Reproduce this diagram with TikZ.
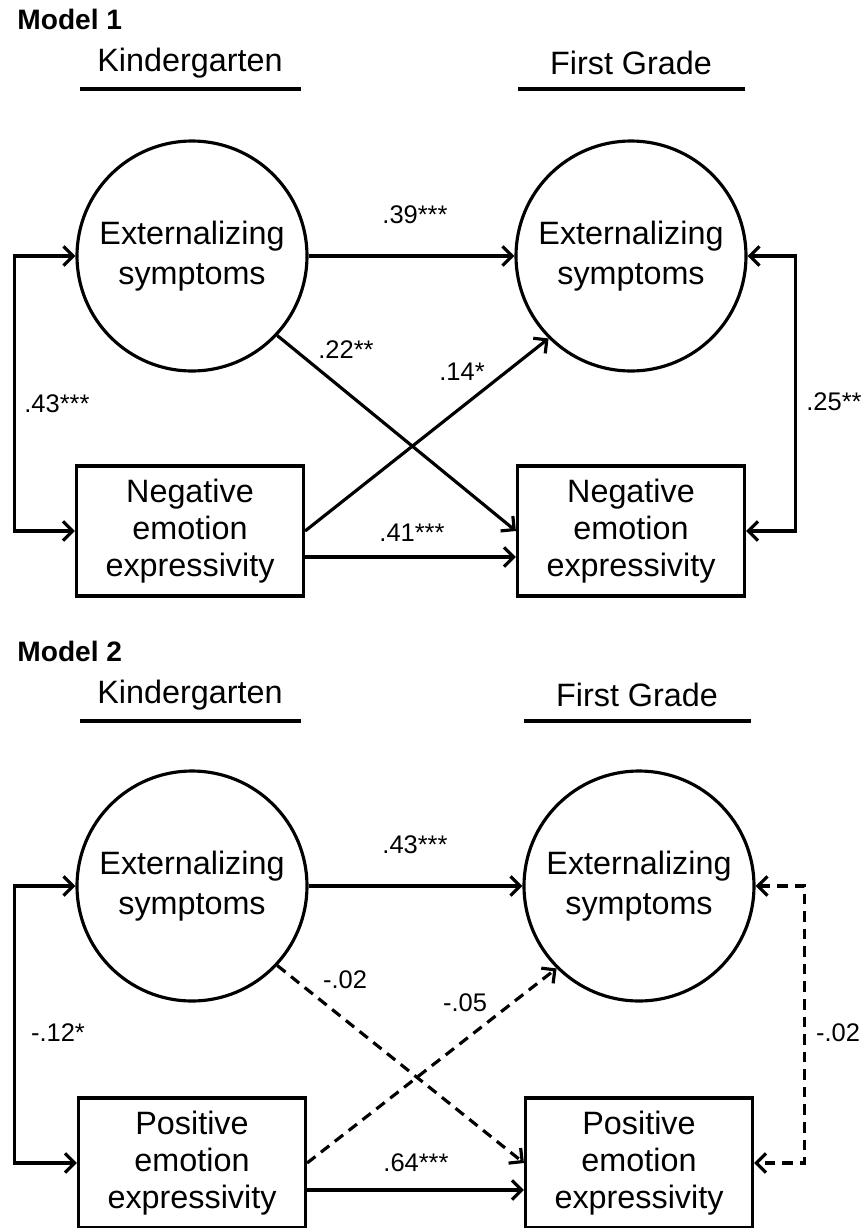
\documentclass[tikz,border=0pt]{standalone}
\usepackage{fontspec}
\setmainfont{Liberation Sans}
\usetikzlibrary{arrows.meta}

\begin{document}
\begin{tikzpicture}[x=0.2mm,y=-0.2mm,line width=1.8pt,
  latent/.style={draw, circle, minimum size=46mm, inner sep=0pt, align=center, font=\fontsize{18.4}{23}\selectfont},
  observed/.style={draw, rectangle, minimum width=45.4mm, minimum height=26mm, inner sep=0pt, align=center, font=\fontsize{18.4}{21}\selectfont},
  effect/.style={-{Straight Barb[length=5.5pt,width=11pt]}},
  cov/.style={{Straight Barb[length=5.5pt,width=11pt]}-{Straight Barb[length=5.5pt,width=11pt]}},
  ns/.style={dash pattern=on 6pt off 4pt},
  coef/.style={font=\fontsize{14.5}{17}\selectfont},
  wave/.style={font=\fontsize{18.4}{22}\selectfont},
  model/.style={anchor=west, font=\bfseries\fontsize{16}{18}\selectfont}]
\useasboundingbox (0,0) rectangle (864,1228);

% Model 1
\node[model] (m1) at (10,19) {Model 1};
\node[wave] (kg1) at (190,63) {Kindergarten};
\node[wave] (fg1) at (631,63) {First Grade};
\draw (80,89) -- (301,89);
\draw (518,89) -- (745,89);

\node[latent] (ext1K) at (192,256) {Externalizing\\symptoms};
\node[latent] (ext1F) at (631,256) {Externalizing\\symptoms};
\node[observed] (neg1K) at (190,531) {Negative\\emotion\\expressivity};
\node[observed] (neg1F) at (631,531) {Negative\\emotion\\expressivity};

\draw[effect] (ext1K) -- (ext1F);
\draw[effect] (ext1K.-43) -- (neg1F.west);
\draw[effect] (neg1K.east) -- (ext1F.-135);
\draw[effect] ([yshift=-5.2mm]neg1K.east) -- ([yshift=-5.2mm]neg1F.west);
\draw[cov] (ext1K.west) -- ++(-61,0) |- (neg1K.west);
\draw[cov] (ext1F.east) -- ++(48,0) |- (neg1F.east);

\node[coef] (c43) at (57,404) {.43***};
\node[coef] (c39) at (415,215) {.39***};
\node[coef] (c22) at (346,350) {.22**};
\node[coef] (c14) at (462,372) {.14*};
\node[coef] (c41) at (412,533) {.41***};
\node[coef] (c25) at (834,402) {.25**};

% Model 2
\node[model] (m2) at (10,651) {Model 2};
\node[wave] (kg2) at (190,695) {Kindergarten};
\node[wave] (fg2) at (637,695) {First Grade};
\draw (80,721) -- (301,721);
\draw (524,721) -- (751,721);

\node[latent] (ext2K) at (192,886) {Externalizing\\symptoms};
\node[latent] (ext2F) at (639,886) {Externalizing\\symptoms};
\node[observed] (pos2K) at (192,1163) {Positive\\emotion\\expressivity};
\node[observed] (pos2F) at (639,1163) {Positive\\emotion\\expressivity};

\draw[effect] (ext2K) -- (ext2F);
\draw[effect,ns] (ext2K.-43) -- (pos2F.west);
\draw[effect,ns] (pos2K.east) -- (ext2F.-135);
\draw[effect] ([yshift=-5.4mm]pos2K.east) -- ([yshift=-5.4mm]pos2F.west);
\draw[cov] (ext2K.west) -- ++(-61,0) |- (pos2K.west);
\draw[cov,ns] (ext2F.east) -- ++(49,0) |- (pos2F.east);

\node[coef] (c12) at (58,1033) {-.12*};
\node[coef] (c43b) at (415,845) {.43***};
\node[coef] (c02) at (345,980) {-.02};
\node[coef] (c05) at (465,1003) {-.05};
\node[coef] (c64) at (416,1163) {.64***};
\node[coef] (c02b) at (838,1033) {-.02};

\end{tikzpicture}
\end{document}
